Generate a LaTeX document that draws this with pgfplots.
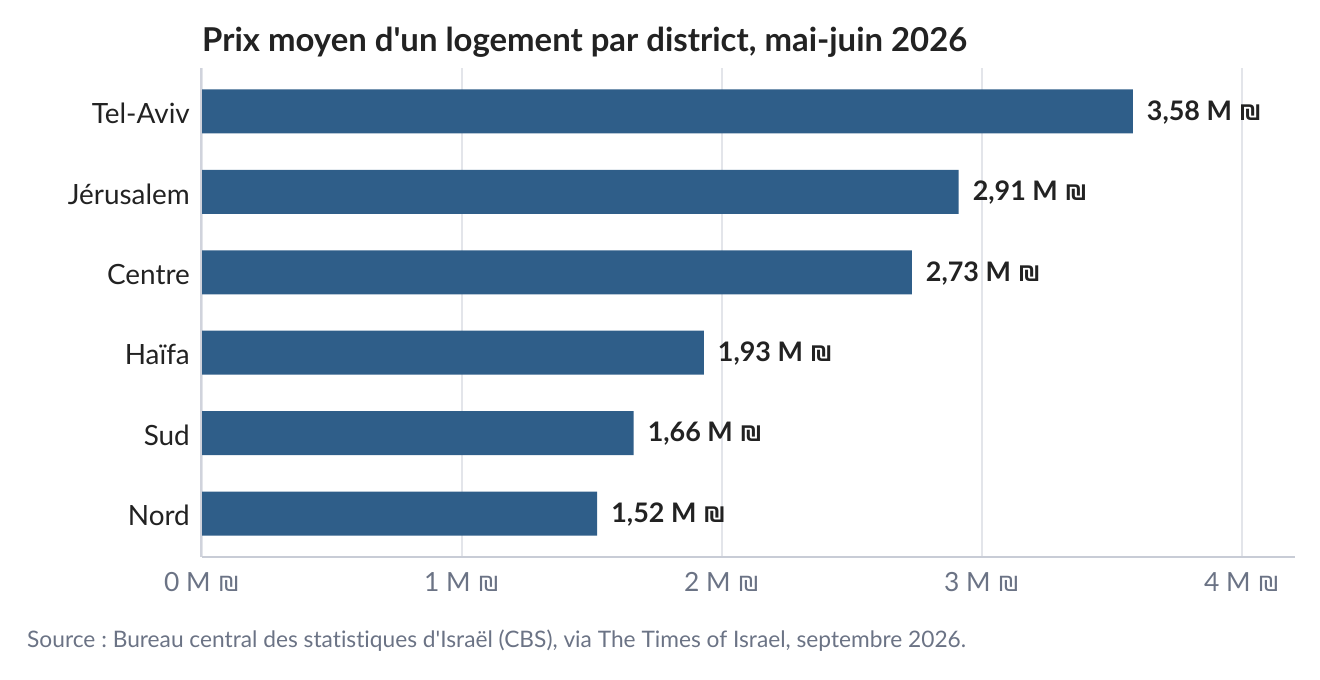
\documentclass[border=0pt]{standalone}
\usepackage{fontspec}
\setmainfont{Lato}[Ligatures={TeXOff,NoCommon}]
\usepackage{pgfplots}
\pgfplotsset{compat=1.18}
\frenchspacing

\definecolor{barblue}{HTML}{2F5E89}
\definecolor{gridgray}{HTML}{E3E5EA}
\definecolor{axisgray}{HTML}{C8CCD6}
\definecolor{ticktext}{HTML}{6B7385}
\definecolor{darktext}{HTML}{222222}

\begin{document}
\begin{tikzpicture}[x=1bp,y=1bp]
  \useasboundingbox (0,0) rectangle (1320,679);
  \begin{axis}[
      at={(202bp,122bp)}, anchor=south west,
      scale only axis,
      width=1093bp, height=489bp,
      xbar, bar width=44bp,
      xmin=0, xmax=4.204,
      ymin=-0.54, ymax=5.54,
      xtick={0,1,2,3,4},
      xticklabels={0 M ₪,1 M ₪,2 M ₪,3 M ₪,4 M ₪},
      ytick={0,1,2,3,4,5},
      yticklabels={Nord,Sud,Haïfa,Centre,Jérusalem,Tel-Aviv},
      major tick length=0pt,
      axis x line*=bottom, axis y line*=left,
      x axis line style={draw=axisgray, line width=2bp},
      y axis line style={draw=axisgray!70!gridgray, line width=2bp, xshift=-1bp},
      xmajorgrids, grid style={draw=gridgray, line width=1.5bp},
      xticklabel style={font=\fontsize{26.5}{30}\selectfont, text=ticktext,
        anchor=base, inner sep=0pt, yshift=-35bp},
      yticklabel style={font=\fontsize{28}{32}\selectfont, text=darktext,
        anchor=east, inner sep=0pt, xshift=-12bp, yshift=-2bp},
      /pgf/number format/assume math mode=true,
      nodes near coords={\pgfmathprintnumber[fixed,precision=2,zerofill,use comma]{\pgfplotspointmeta} M ₪},
      every node near coord/.append style={font=\bfseries\fontsize{27}{32}\selectfont,
        text=darktext, anchor=west, inner sep=0pt, xshift=14bp, yshift=-1bp},
  ]
  \addplot[fill=barblue, draw=none] coordinates {
    (1.52,0) (1.66,1) (1.93,2) (2.73,3) (2.91,4) (3.58,5)
  };
  \end{axis}
  \node[anchor=base west, inner sep=0pt, text=darktext,
    font=\bfseries\fontsize{33}{38}\selectfont] at (202,627)
    {Prix moyen d'un logement par district, mai-juin 2026};
  \node[anchor=base west, inner sep=0pt, text=ticktext,
    font=\fontsize{22.8}{26}\selectfont] at (27,31)
    {Source : Bureau central des statistiques d'Israël (CBS), via The Times of Israel, septembre 2026.};
\end{tikzpicture}
\end{document}
